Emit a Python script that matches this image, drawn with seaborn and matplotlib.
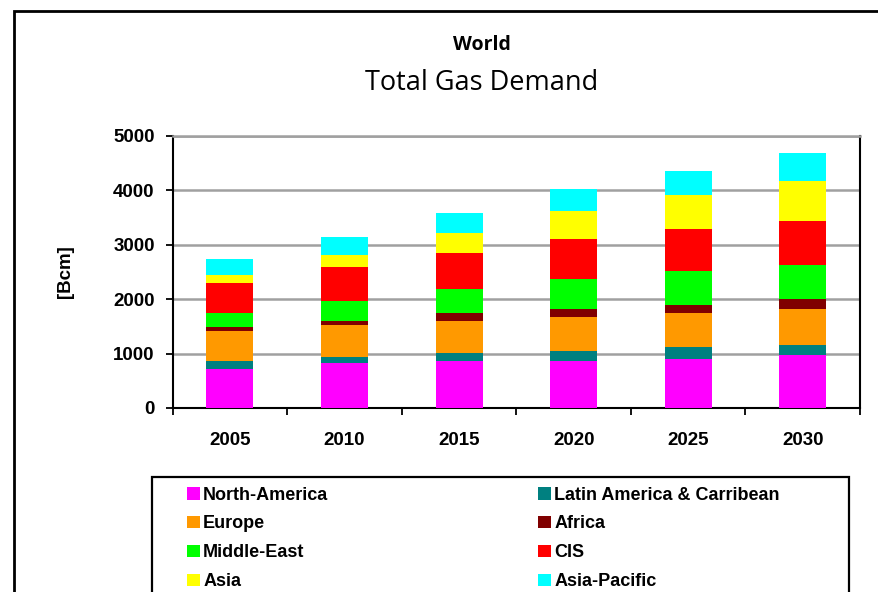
import numpy as np
import pandas as pd
import matplotlib
matplotlib.use("Agg")
import matplotlib.pyplot as plt
from matplotlib.patches import Patch, Rectangle
import seaborn as sns

years = ["2005", "2010", "2015", "2020", "2025", "2030"]
series_names = ["North-America", "Latin America & Carribean", "Europe", "Africa",
                "Middle-East", "CIS", "Asia", "Asia-Pacific"]
north_america = [712, 822, 859, 859, 896, 969]
latin_america = [148, 111, 147, 184, 221, 184]
europe        = [552, 589, 589, 626, 625, 663]
africa        = [74, 73, 147, 147, 148, 184]
middle_east   = [258, 368, 442, 552, 625, 626]
cis           = [552, 626, 663, 736, 773, 810]
asia          = [148, 221, 368, 516, 626, 736]
asia_pacific  = [301, 331, 368, 405, 442, 515]
colors = ["#FF00FF", "#008080", "#FF9900", "#800000",
          "#00FF00", "#FF0000", "#FFFF00", "#00FFFF"]
y_ticks = [0, 1000, 2000, 3000, 4000, 5000]

values = [north_america, latin_america, europe, africa,
          middle_east, cis, asia, asia_pacific]

sns.set_theme(style="white")
plt.rcParams["font.family"] = ["Liberation Sans", "DejaVu Sans"]
plt.rcParams["text.color"] = "black"
plt.rcParams["axes.labelcolor"] = "black"
plt.rcParams["xtick.color"] = "black"
plt.rcParams["ytick.color"] = "black"

W, H = 879, 592
fig = plt.figure(figsize=(W / 100, H / 100), dpi=100)
ax = fig.add_axes([172.7 / W, 1 - 408 / H, (860 - 172.7) / W, (408 - 136) / H])

cum = np.cumsum(np.array(values, dtype=float), axis=0)
for i in range(len(series_names) - 1, -1, -1):
    df = pd.DataFrame({"year": years, "value": cum[i]})
    sns.barplot(data=df, x="year", y="value", color=colors[i], width=0.41,
                saturation=1, ax=ax, zorder=3, linewidth=0)

tick_font = 13.5
ax.set_ylim(0, 5000)
ax.set_yticks(y_ticks)
ax.set_yticklabels([str(t) for t in y_ticks], fontsize=tick_font, fontweight="bold")
ax.set_xticks(range(len(years)))
ax.set_xticklabels(years, fontsize=tick_font, fontweight="bold")
ax.set_xticks(np.arange(-0.5, len(years), 1.0), minor=True)
ax.set_xlim(-0.5, len(years) - 0.5)
ax.tick_params(axis="x", which="major", length=0, pad=17)
ax.tick_params(axis="x", which="minor", length=5, width=1.3, direction="out", color="black", bottom=True)
ax.tick_params(axis="y", which="major", length=5, width=1.3, direction="out", color="black", left=True, pad=8)
ax.set_xlabel("")
ax.set_ylabel("[Bcm]", fontsize=tick_font, fontweight="bold", labelpad=28)

ax.grid(axis="y", color="#A0A0A0", linewidth=1.8, zorder=0)
ax.set_axisbelow(True)
for s in ["left", "bottom", "right"]:
    ax.spines[s].set_color("black")
    ax.spines[s].set_linewidth(1.5)
ax.spines["top"].set_color("#A0A0A0")
ax.spines["top"].set_linewidth(1.8)

fig.text(482 / W, 1 - 45 / H, "World", ha="center", va="center",
         fontsize=14, fontweight="bold", family=["Open Sans", "DejaVu Sans"])
fig.text(482 / W, 1 - 82.5 / H, "Total Gas Demand", ha="center", va="center",
         fontsize=19.5, family=["Open Sans", "DejaVu Sans"])

# outer chart border
fig.patches.append(Rectangle((14 / W, -0.1), 1.0, 1 - 10.5 / H + 0.1, transform=fig.transFigure,
                             fill=False, edgecolor="black", linewidth=2, zorder=0))
# legend box
fig.patches.append(Rectangle((152 / W, -0.1), (849 - 152) / W, 1 - 477 / H + 0.1,
                             transform=fig.transFigure, fill=False, edgecolor="black",
                             linewidth=1.6, zorder=1))

handles = [Patch(facecolor=c, edgecolor="none") for c in colors]
col1 = [0, 2, 4, 6]
col2 = [1, 3, 5, 7]
leg_kw = dict(frameon=False, handlelength=0.7, handleheight=0.7,
              handletextpad=0.2, labelspacing=0.66, borderpad=0, borderaxespad=0,
              loc="upper left", prop={"weight": "bold", "size": 13})
fig.legend([handles[i] for i in col1], [series_names[i] for i in col1],
           bbox_to_anchor=(187 / W, 1 - 486.5 / H), **leg_kw)
fig.legend([handles[i] for i in col2], [series_names[i] for i in col2],
           bbox_to_anchor=(538 / W, 1 - 486.5 / H), **leg_kw)

fig.savefig("out.png", dpi=100)
